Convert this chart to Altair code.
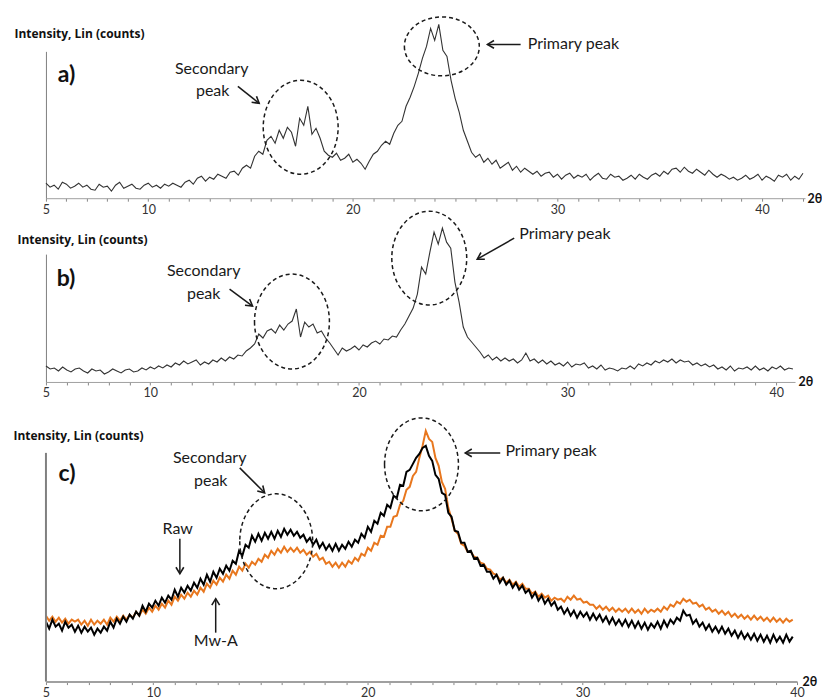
import math
import altair as alt
import pandas as pd

# ---------------- data (intensity, arbitrary units) ----------------
# panel a: scan 5.0 .. 42.0 deg, step 0.2
a_counts = [
    15, 11, 13, 9, 16, 14, 10, 12, 15, 11,
    13, 9, 8, 14, 11, 12, 7, 13, 16, 10,
    12, 14, 10, 9, 13, 15, 11, 13, 10, 14,
    12, 15, 13, 11, 16, 18, 14, 20, 22, 17,
    21, 19, 24, 22, 20, 26, 27, 23, 30, 33,
    30, 42, 47, 44, 58, 62, 55, 68, 60, 71,
    66, 52, 80, 73, 92, 64, 70, 60, 47, 43,
    41, 45, 38, 40, 44, 36, 39, 35, 29, 37,
    44, 47, 53, 57, 54, 65, 73, 77, 92, 101,
    112, 125, 140, 152, 170, 158, 174, 148, 142, 118,
    100, 86, 68, 57, 46, 41, 44, 36, 40, 34,
    38, 30, 33, 36, 28, 32, 26, 30, 27, 24,
    27, 22, 25, 26, 21, 24, 19, 23, 25, 20,
    23, 21, 24, 18, 22, 25, 20, 19, 24, 21,
    22, 18, 20, 23, 19, 24, 21, 19, 23, 25,
    22, 27, 24, 29, 30, 26, 31, 27, 25, 29,
    26, 23, 28, 24, 21, 24, 22, 19, 21, 18,
    20, 23, 19, 21, 24, 18, 22, 20, 17, 23,
    21, 24, 18, 22, 19, 25,
]
# panel b: scan 5.0 .. 40.8 deg, step 0.2
b_counts = [
    16, 13, 14, 11, 15, 12, 10, 13, 14, 11,
    9, 13, 11, 12, 8, 10, 13, 11, 9, 12,
    13, 10, 11, 14, 12, 15, 13, 16, 14, 17,
    15, 19, 17, 21, 18, 20, 22, 17, 20, 18,
    22, 20, 24, 21, 25, 23, 27, 26, 31, 34,
    38, 48, 44, 51, 53, 49, 57, 52, 58, 61,
    73, 45, 60, 55, 58, 49, 51, 44, 39, 33,
    27, 34, 31, 33, 36, 32, 37, 35, 39, 41,
    38, 43, 42, 46, 45, 52, 58, 66, 74, 88,
    115, 108, 130, 150, 138, 154, 140, 134, 100, 80,
    55, 45, 40, 35, 30, 24, 27, 22, 25, 21,
    24, 21, 23, 19, 22, 29, 21, 23, 19, 22,
    18, 21, 17, 19, 16, 20, 15, 18, 17, 19,
    14, 16, 13, 17, 12, 14, 13, 11, 14, 13,
    16, 13, 18, 16, 19, 17, 21, 19, 22, 20,
    23, 19, 22, 20, 21, 17, 19, 16, 18, 15,
    17, 13, 15, 12, 16, 11, 14, 13, 15, 12,
    16, 12, 14, 11, 15, 13, 16, 12, 14, 13,
]
# panel c: scan 5.0 .. 39.8 deg, step 0.15
c_raw = [
    60, 53, 62, 55, 58, 51, 60, 54, 57, 50,
    56, 49, 55, 50, 54, 47, 53, 49, 55, 51,
    60, 54, 63, 58, 65, 60, 67, 63, 70, 66,
    76, 70, 78, 74, 81, 76, 84, 79, 86, 82,
    92, 85, 94, 89, 96, 91, 99, 94, 103, 97,
    107, 100, 110, 104, 113, 108, 116, 111, 121, 118,
    131, 126, 137, 134, 146, 140, 148, 141, 149, 143,
    150, 143, 151, 145, 153, 147, 152, 146, 150, 144,
    147, 140, 144, 137, 142, 134, 139, 132, 137, 131,
    138, 131, 137, 133, 140, 135, 142, 139, 148, 144,
    155, 150, 161, 158, 169, 166, 177, 174, 186, 184,
    197, 196, 210, 212, 218, 224, 228, 234, 236, 226,
    221, 207, 203, 189, 187, 169, 165, 151, 150, 139,
    139, 130, 131, 123, 124, 116, 117, 110, 110, 103,
    107, 99, 104, 97, 101, 94, 99, 92, 96, 89,
    92, 84, 89, 81, 86, 78, 83, 76, 80, 72,
    75, 68, 73, 66, 71, 64, 70, 65, 69, 62,
    68, 62, 67, 60, 65, 58, 64, 57, 62, 56,
    62, 55, 61, 54, 60, 53, 59, 52, 58, 54,
    60, 53, 61, 55, 62, 58, 64, 61, 71, 66,
    67, 58, 62, 55, 59, 52, 57, 50, 55, 49,
    55, 48, 53, 46, 51, 44, 50, 43, 48, 42,
    48, 41, 47, 40, 46, 39, 47, 40, 45, 39,
    47, 40, 45,
]
c_mwa = [
    66, 61, 65, 60, 64, 59, 63, 58, 62, 60,
    62, 57, 61, 56, 62, 57, 61, 58, 62, 57,
    64, 60, 65, 61, 66, 62, 67, 64, 70, 66,
    72, 68, 74, 70, 76, 72, 78, 74, 81, 77,
    85, 81, 87, 83, 89, 85, 91, 87, 94, 90,
    98, 94, 101, 97, 104, 100, 107, 103, 111, 107,
    115, 111, 118, 114, 120, 117, 123, 120, 127, 124,
    131, 127, 133, 129, 135, 130, 134, 130, 134, 129,
    132, 127, 130, 125, 128, 122, 124, 118, 120, 115,
    119, 114, 119, 115, 121, 118, 124, 121, 128, 126,
    134, 131, 139, 137, 146, 145, 155, 155, 165, 166,
    177, 181, 192, 195, 206, 210, 224, 236, 251, 243,
    240, 224, 216, 200, 193, 174, 163, 151, 148, 138,
    136, 130, 130, 125, 124, 119, 118, 113, 112, 108,
    107, 102, 104, 99, 102, 97, 100, 95, 98, 93,
    93, 88, 90, 85, 88, 84, 86, 81, 84, 82,
    83, 80, 85, 82, 86, 82, 83, 79, 80, 77,
    77, 73, 76, 72, 75, 71, 74, 70, 73, 70,
    73, 69, 73, 69, 72, 68, 73, 69, 72, 70,
    73, 70, 75, 72, 77, 75, 80, 78, 83, 80,
    82, 78, 79, 75, 77, 72, 74, 70, 72, 68,
    71, 67, 70, 65, 68, 64, 67, 63, 66, 62,
    66, 62, 65, 61, 64, 60, 64, 60, 63, 59,
    63, 60, 62,
]

a_theta = [round(5 + 0.2 * i, 2) for i in range(len(a_counts))]
b_theta = [round(5 + 0.2 * i, 2) for i in range(len(b_counts))]
c_theta = [round(5 + 0.15 * i, 2) for i in range(len(c_raw))]

tick_labels = [5, 10, 20, 30, 40]

# annotations in data coordinates (2theta, intensity)
a_ann = dict(
    letter=[("a)", 6.0, 123)],
    center=[("Secondary", 13.1, 129), ("peak", 13.15, 107)],
    left=[("Primary peak", 28.55, 154)],
    ellipses=[(17.45, 71, 37.5, 47), (24.35, 152, 37.5, 29.5)],
    arrows=[(14.38, 112, 15.42, 95), (28.2, 154, 26.58, 154)],
)
b_ann = dict(
    letter=[("b)", 5.96, 103)],
    center=[("Secondary", 12.56, 111), ("peak", 12.56, 88)],
    left=[("Primary peak", 27.68, 148)],
    ellipses=[(16.79, 60.5, 37.5, 47.5), (23.37, 124, 37.5, 47)],
    arrows=[(13.8, 93, 14.9, 76), (27.44, 144, 25.67, 123)],
)
c_ann = dict(
    letter=[("c)", 5.98, 208)],
    center=[("Secondary", 12.63, 224), ("peak", 12.68, 201),
            ("Raw", 11.14, 153), ("Mw-A", 12.91, 41)],
    left=[("Primary peak", 26.41, 231)],
    ellipses=[(15.73, 140.5, 36.5, 47.5), (22.5, 217.5, 37, 46.5)],
    arrows=[(14.03, 214, 15.19, 189), (11.24, 143, 11.24, 108),
            (12.91, 49, 12.91, 83), (26.17, 229, 24.54, 229)],
)

FONT = "Lato"
INK = "#1a1a1a"
HEAD = "M -1,-0.6 L 0,0 L -1,0.6"


def ellipse_shape(rx, ry):
    m = max(rx, ry)
    a, b = rx / m, ry / m
    path = f"M {-a},0 A {a},{b} 0 1,0 {a},0 A {a},{b} 0 1,0 {-a},0 Z"
    return path, (2 * m) ** 2


def make_panel(series, width, height, xmax, ann, ytx, yty, xtx,
               axis_h=None, domain_w=1):
    xaxis = alt.Axis(
        values=list(range(5, int(xmax) + 1)),
        labelExpr="datum.value == 5 || datum.value % 10 == 0 ? datum.label : ''",
        labelOverlap=False, labelFlush=False, grid=False,
        tickSize=3, tickColor="#888", domainColor="#a0a0a0", domainWidth=domain_w,
        labelFont=FONT, labelFontSize=12.5, labelColor="#333", labelPadding=2,
        title="2θ", titleX=xtx, titleY=0, titleAlign="left", titleBaseline="middle",
        titleFont=FONT, titleFontSize=12.5, titleFontWeight="bold", titleColor="#111",
    )
    yaxis = alt.Axis(
        labels=False, ticks=False, grid=False,
        domain=axis_h is None, domainColor="#808080", domainWidth=1,
        title="Intensity, Lin (counts)", titleAngle=0, titleAlign="left",
        titleBaseline="middle", titleX=ytx, titleY=yty,
        titleFont="Open Sans", titleFontSize=12, titleFontWeight="bold", titleColor="#111",
    )
    X = alt.X("x:Q", scale=alt.Scale(domain=[5, xmax], nice=False, zero=False), axis=xaxis)
    Y = alt.Y("y:Q", scale=alt.Scale(domain=[0, height], nice=False, zero=False), axis=yaxis)

    layers = []
    for theta, vals, color, sw in series:
        df = pd.DataFrame({"x": theta, "y": vals})
        layers.append(alt.Chart(df).mark_line(color=color, strokeWidth=sw).encode(x=X, y=Y))

    if axis_h is not None:
        df = pd.DataFrame({"x": [5], "y": [0], "y2": [axis_h]})
        layers.append(alt.Chart(df).mark_rule(color="#808080", strokeWidth=2)
                      .encode(x=X, y=Y, y2="y2:Q"))

    for cx, cy, rx, ry in ann["ellipses"]:
        path, size = ellipse_shape(rx, ry)
        df = pd.DataFrame({"x": [cx], "y": [cy]})
        layers.append(alt.Chart(df).mark_point(
            shape=path, size=size, filled=False, stroke=INK, strokeWidth=1.5,
            strokeDash=[4, 3], opacity=1).encode(x=X, y=Y))

    kx = width / (xmax - 5)
    rows = []
    for x1, y1, x2, y2 in ann["arrows"]:
        ang = math.degrees(math.atan2(-(y2 - y1), (x2 - x1) * kx)) % 360
        rows.append({"x": x1, "y": y1, "x2": x2, "y2": y2, "hx": x2, "hy": y2, "ang": ang})
    adf = pd.DataFrame(rows)
    layers.append(alt.Chart(adf).mark_rule(color=INK, strokeWidth=1.5)
                  .encode(x=X, y=Y, x2="x2:Q", y2="y2:Q"))
    hdf = pd.DataFrame({"x": adf["hx"], "y": adf["hy"], "ang": adf["ang"]})
    layers.append(alt.Chart(hdf).mark_point(
        shape=HEAD, size=170, filled=False, stroke=INK, strokeWidth=1.6, opacity=1,
        strokeJoin="miter").encode(x=X, y=Y, angle=alt.Angle("ang:Q", scale=None)))

    ldf = pd.DataFrame(ann["letter"], columns=["t", "x", "y"])
    layers.append(alt.Chart(ldf).mark_text(
        font=FONT, fontSize=23, fontWeight="bold", color="#111",
        align="center", baseline="middle").encode(x=X, y=Y, text="t:N"))
    cdf = pd.DataFrame(ann["center"], columns=["t", "x", "y"])
    layers.append(alt.Chart(cdf).mark_text(
        font=FONT, fontSize=16, color=INK, align="center", baseline="middle")
        .encode(x=X, y=Y, text="t:N"))
    rdf = pd.DataFrame(ann["left"], columns=["t", "x", "y"])
    layers.append(alt.Chart(rdf).mark_text(
        font=FONT, fontSize=16, color=INK, align="left", baseline="middle")
        .encode(x=X, y=Y, text="t:N"))

    return alt.layer(*layers).properties(width=width, height=height)


pa = make_panel([(a_theta, a_counts, "#333333", 1.1)], 760, 147, 42.1, a_ann,
                ytx=-32, yty=-18, xtx=762)
pb = make_panel([(b_theta, b_counts, "#333333", 1.1)], 750, 128, 40.9, b_ann,
                ytx=-29, yty=-15, xtx=753)
pc = make_panel([(c_theta, c_mwa, "#E8771E", 2.0), (c_theta, c_raw, "#000000", 2.0)],
                752, 244, 40.0, c_ann, ytx=-33, yty=-2, xtx=757,
                axis_h=229, domain_w=2)

chart = alt.vconcat(pa, pb, pc, spacing=56, bounds="flush").properties(
    padding={"left": 5, "top": 5, "right": 0, "bottom": 0}
).configure_view(stroke=None)

chart.save("out.html", embed_options={"renderer": "svg", "actions": False})
